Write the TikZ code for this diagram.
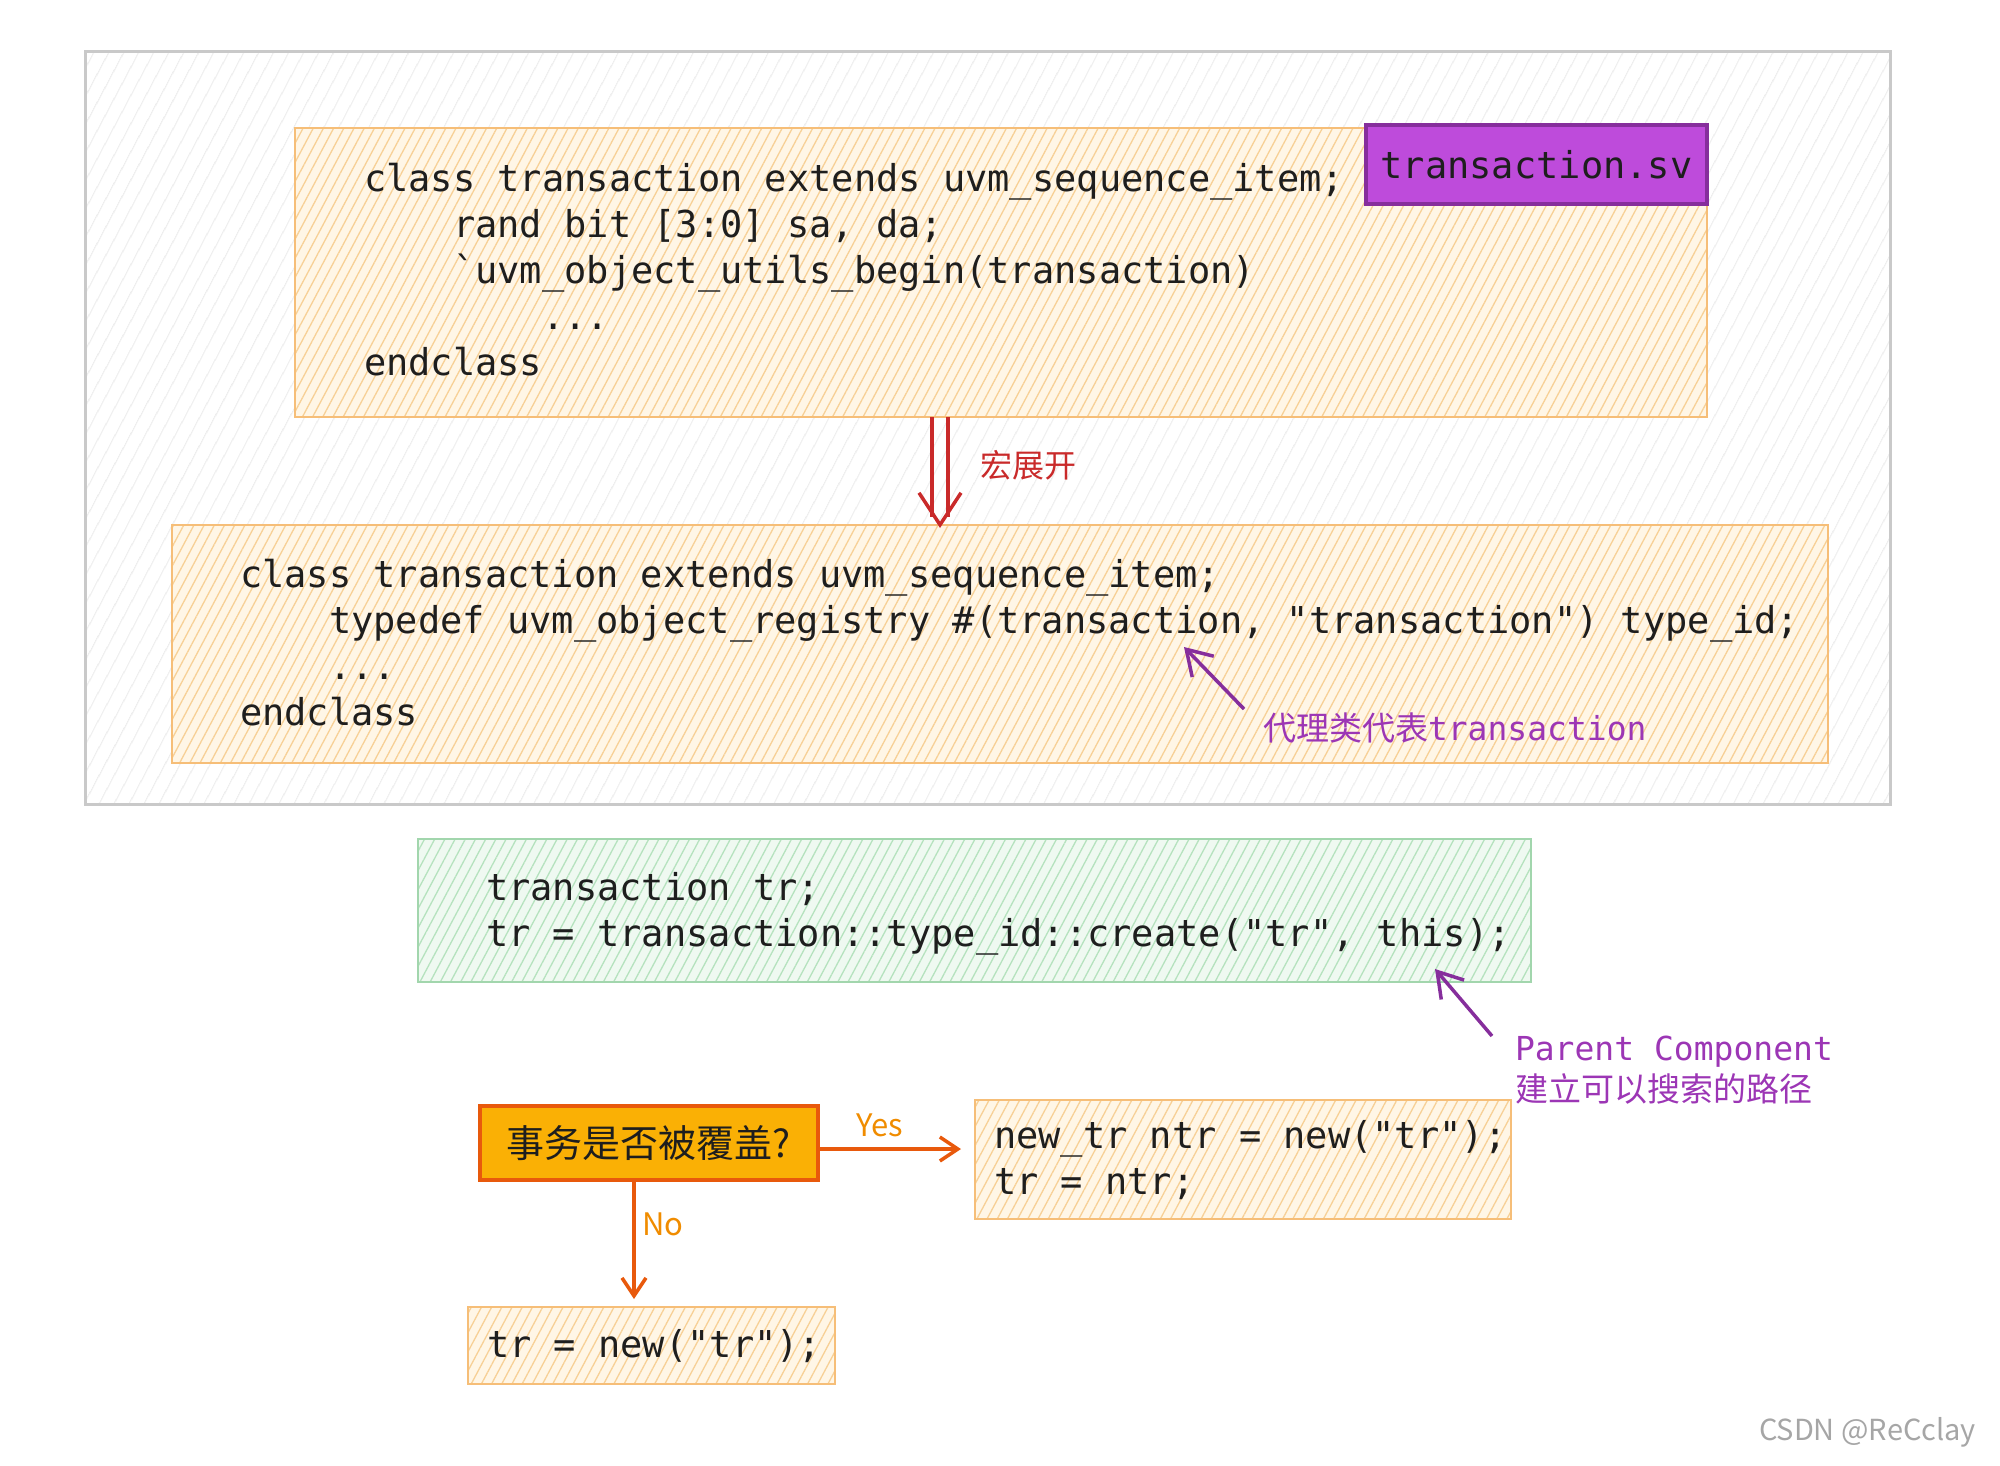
\documentclass[tikz,border=0pt]{standalone}
\usepackage{fontspec}
\setmonofont{DejaVu Sans Mono}
\newfontfamily\cjk{Noto Sans CJK SC}
\usetikzlibrary{arrows.meta, positioning, calc, patterns.meta}
\definecolor{FrameGray}{HTML}{C9C9C9}
\definecolor{FrameHatch}{HTML}{E3E3E3}
\definecolor{CodeOrange}{HTML}{F6BE78}
\definecolor{CodeHatch}{HTML}{F7D096}
\definecolor{CodeFill}{HTML}{FFF6E6}
\definecolor{CodeGreen}{HTML}{A2D6AD}
\definecolor{GreenHatch}{HTML}{B5E2BE}
\definecolor{GreenFill}{HTML}{EFF9F1}
\definecolor{TagViolet}{HTML}{BE4BDB}
\definecolor{TagBorder}{HTML}{862E9C}
\definecolor{NoteViolet}{HTML}{9C36B5}
\definecolor{ExpRed}{HTML}{C92A2A}
\definecolor{DecYellow}{HTML}{FAB005}
\definecolor{DecOrange}{HTML}{E8590C}
\definecolor{FlowOrange}{HTML}{F08C00}
\definecolor{CodeInk}{HTML}{1E1E1E}
\newcommand{\codefont}{\ttfamily\fontsize{37}{46}\selectfont}
\newcommand{\notefont}{\fontsize{33}{41}\selectfont}
\newcommand{\us}{\char"5F\relax}

\begin{document}
\begin{tikzpicture}[
    x=1pt, y=-1pt,
    every node/.style={inner sep=0pt, outer sep=0pt},
    frame/.style={rectangle, draw=FrameGray, line width=3pt, anchor=north west,
      pattern={Lines[distance=13pt, angle=62, line width=1pt]}, pattern color=FrameHatch},
    codebox/.style={rectangle, draw=CodeOrange, line width=2.5pt, anchor=north west,
      preaction={fill=CodeFill}, pattern={Lines[distance=9pt, angle=62, line width=1.3pt]}, pattern color=CodeHatch},
    greenbox/.style={rectangle, draw=CodeGreen, line width=2.5pt, anchor=north west,
      preaction={fill=GreenFill}, pattern={Lines[distance=9pt, angle=62, line width=1.3pt]}, pattern color=GreenHatch},
    tagbox/.style={rectangle, draw=TagBorder, fill=TagViolet, line width=3.5pt, font=\codefont, text=CodeInk},
    code/.style={anchor=north west, align=left, font=\codefont, text=CodeInk},
    decision/.style={rectangle, draw=DecOrange, fill=DecYellow, line width=3.5pt, anchor=north west,
      font=\cjk\fontsize{38}{42}\selectfont, text=CodeInk},
    expline/.style={draw=ExpRed, line width=3.5pt},
    notearrow/.style={-{Straight Barb[length=24pt, width=30pt]}, draw=TagBorder, line width=3.5pt},
    flow/.style={-{Straight Barb[length=18pt, width=24pt]}, draw=DecOrange, line width=3.5pt},
    note/.style={text=NoteViolet, font=\notefont},
    flowlbl/.style={text=FlowOrange, font=\cjk\fontsize{31}{34}\selectfont}
  ]
    \useasboundingbox (0,0) rectangle (2000,1465);

    % Outer frame
    \node[frame, minimum width=1805pt, minimum height=753pt] (frame) at (85,51) {};

    % Source class
    \node[codebox, minimum width=1412pt, minimum height=289pt] (src) at (295,128) {};
    \node[tagbox, minimum width=341pt, minimum height=79pt, anchor=north east] (tagsv) at ([yshift=3pt]src.north east) {transaction.sv};
    \node[code] (srcTxt) at (364,163) {class transaction extends uvm\us sequence\us item;\\
      \phantom{xxxx}rand bit [3:0] sa, da;\\
      \phantom{xxxx}\textasciigrave uvm\us object\us utils\us begin(transaction)\\
      \phantom{xxxxxxxx}...\\
      endclass};

    % Registered class
    \node[codebox, minimum width=1656pt, minimum height=238pt] (reg) at (172,525) {};
    \node[code] (regTxt) at (240,559) {class transaction extends uvm\us sequence\us item;\\
      \phantom{xxxx}typedef uvm\us object\us registry \#(transaction, "transaction") type\us id;\\
      \phantom{xxxx}...\\
      endclass};

    % Macro expansion
    \coordinate (expTop) at ($(src.south)+(-61,0)$);
    \coordinate (expBot) at (expTop |- reg.north);
    \draw[expline] ($(expTop)+(-8,0)$) -- ($(expBot)+(-8,-8)$);
    \draw[expline] ($(expTop)+(8,0)$) -- ($(expBot)+(8,-8)$);
    \draw[expline, -{Straight Barb[length=32pt, width=42pt]}] ($(expBot)+(0,-1)$) -- ($(expBot)+(0,3)$);
    \node[text=ExpRed, font=\cjk\fontsize{32}{36}\selectfont, anchor=west] (expLbl) at ($(expTop)!0.45!(expBot)+(40,0)$) {宏展开};

    % Proxy note
    \node[note, anchor=west] (proxyLbl) at (1263,728) {\cjk 代理类代表\ttfamily transaction};
    \coordinate (proxyTip) at (1184,647);
    \draw[notearrow] ($(proxyLbl.west)+(-19,-19)$) -- (proxyTip);

    % Creation
    \node[greenbox, minimum width=1113pt, minimum height=143pt] (make) at (418,839) {};
    \node[code] (makeTxt) at (486,872) {transaction tr;\\
      tr = transaction::type\us id::create("tr", this);};

    % Parent note
    \node[note, anchor=north west, align=left] (parentLbl) at (1515,1036) {\ttfamily Parent Component\\
      \cjk 建立可以搜索的路径};
    \coordinate (parentTip) at (1435,969);
    \draw[notearrow] ($(parentLbl.north west)+(-23,0)$) -- (parentTip);

    % Override decision
    \node[decision, minimum width=338pt, minimum height=74pt] (dec) at (480,1106) {事务是否被覆盖?};
    \node[codebox, minimum width=536pt, minimum height=119pt] (over) at (975,1100) {};
    \node[code] (overTxt) at (994,1120) {new\us tr ntr = new("tr");\\
      tr = ntr;};
    \node[codebox, minimum width=367pt, minimum height=77pt] (plain) at (468,1307) {};
    \node[code] (plainTxt) at (487,1329) {tr = new("tr");};

    % Connections
    \draw[flow] ($(dec.east)+(0,6)$) -- ($(dec.east -| over.west)+(-14,6)$);
    \node[flowlbl] (yesLbl) at (880,1125) {Yes};
    \coordinate (noTop) at ($(dec.south)+(-15,0)$);
    \draw[flow, shorten >=8pt] (noTop) -- (noTop |- plain.north);
    \node[flowlbl, anchor=west] (noLbl) at (642,1224) {No};

    % Watermark
    \node[anchor=east, text=gray!70, font=\cjk\fontsize{29}{32}\selectfont] (mark) at (1976,1432) {CSDN @ReCclay};
\end{tikzpicture}
\end{document}
